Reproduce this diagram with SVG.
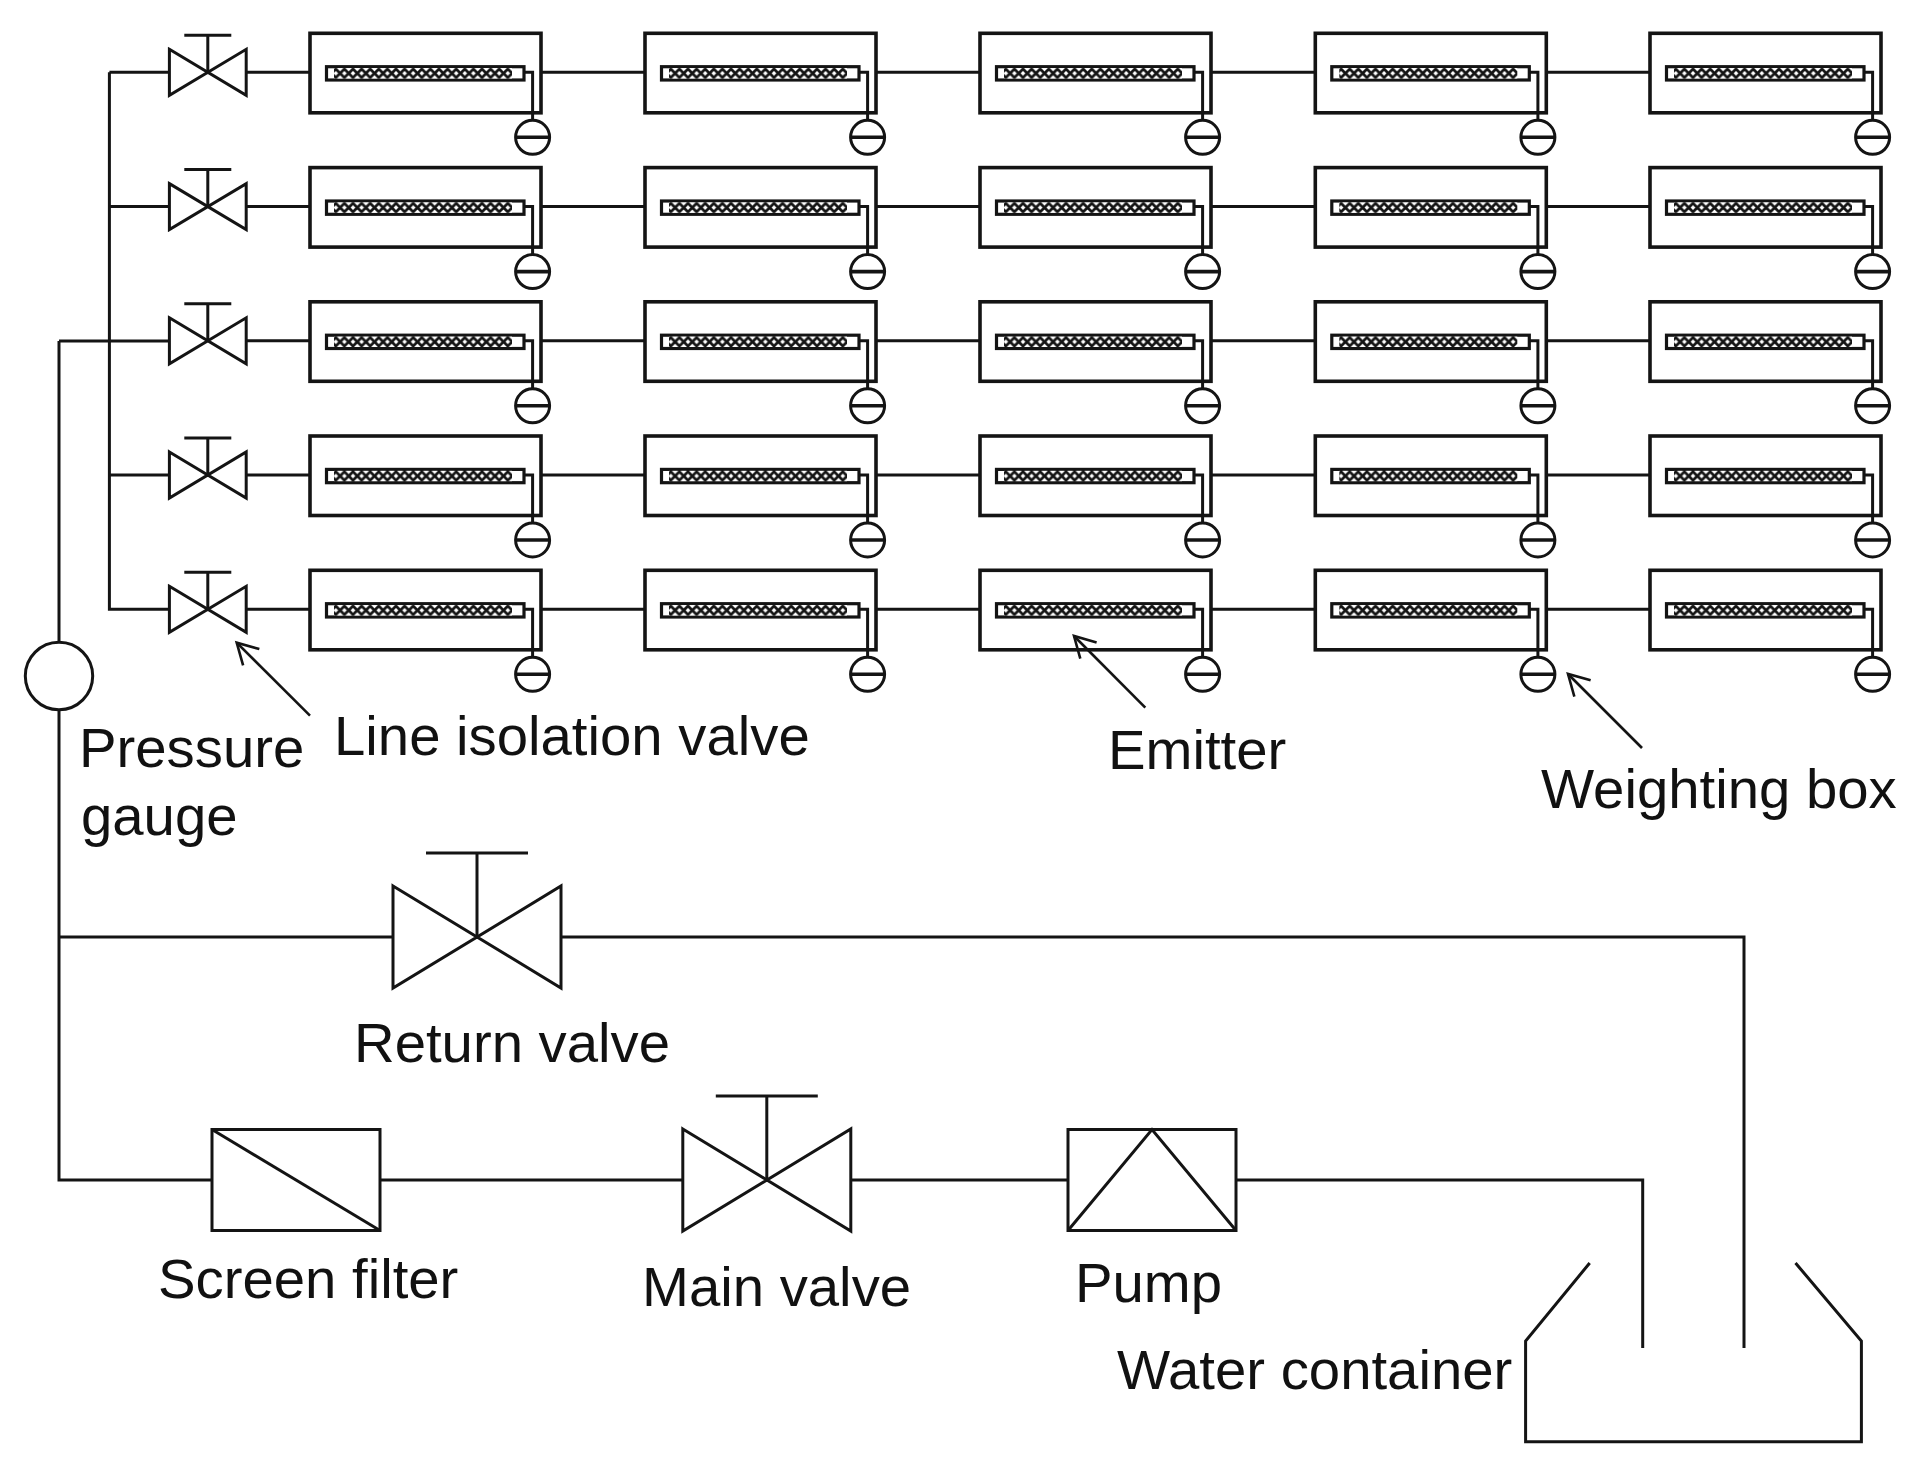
<svg xmlns="http://www.w3.org/2000/svg" xmlns:xlink="http://www.w3.org/1999/xlink" width="1926" height="1471" viewBox="0 0 1926 1471">
<style>
.l{fill:none;stroke:#141414;stroke-width:3;stroke-linejoin:miter}
.b{fill:none;stroke:#141414;stroke-width:3.6}
.t{font-family:"Liberation Sans",Arial,sans-serif;font-size:56.3px;fill:#111}
</style>
<defs>
<pattern id="braid" patternUnits="userSpaceOnUse" width="8.6" height="10.4" x="0" y="-4.2">
<rect width="8.6" height="10.4" fill="#fff"/>
<path d="M-1 0L9.6 10.4M-1 10.4L9.6 0" fill="none" stroke="#141414" stroke-width="2.8"/>
</pattern>
<marker id="arrow" markerUnits="userSpaceOnUse" markerWidth="60" markerHeight="60" viewBox="-40 -30 60 60" refX="0" refY="0" orient="auto" overflow="visible">
<path d="M-20.5 -11.5L0 0L-20.5 11.5" fill="none" stroke="#141414" stroke-width="2.6"/>
</marker>
<g id="unit">
<rect class="b" x="0" y="-39" width="231" height="79.5" fill="#fff"/>
<rect x="16.5" y="-5.6" width="197.5" height="13.3" fill="#fff" stroke="#141414" stroke-width="3.2"/>
<rect x="24" y="-4.2" width="178" height="10.4" fill="url(#braid)"/>
<path class="l" d="M214 0H222.6V48"/>
<circle class="l" cx="222.6" cy="65" r="17"/>
<path class="b" d="M205.6 65H239.6"/>
</g>
<g id="sv">
<path class="l" d="M-38.4 -23L38.4 23V-23L-38.4 23Z"/>
<path class="l" d="M0 0V-37M-23.5 -37H23.5"/>
</g>
<g id="bv">
<path class="l" d="M-84 -51L84 51V-51L-84 51Z"/>
<path class="l" d="M0 0V-84M-51 -84H51"/>
</g>
</defs>
<rect width="1926" height="1471" fill="#fff"/>
<g id="connectors">
<path class="l" d="M109.4 72.3V609.3H169.4M109.4 72.3H169.4M109.4 206.6H169.4M109.4 475H169.4M59 341H169.4M59 341V642M59 710V1180H212"/>
<path class="l" d="M246 72.3H310M541 72.3H645M876 72.3H980M1211 72.3H1315.3M1546.3 72.3H1650"/>
<path class="l" d="M246 206.6H310M541 206.6H645M876 206.6H980M1211 206.6H1315.3M1546.3 206.6H1650"/>
<path class="l" d="M246 340.8H310M541 340.8H645M876 340.8H980M1211 340.8H1315.3M1546.3 340.8H1650"/>
<path class="l" d="M246 475H310M541 475H645M876 475H980M1211 475H1315.3M1546.3 475H1650"/>
<path class="l" d="M246 609.3H310M541 609.3H645M876 609.3H980M1211 609.3H1315.3M1546.3 609.3H1650"/>
<path class="l" d="M59 937H393M561.5 937H1744V1348"/>
<path class="l" d="M380 1180H683M850.6 1180H1068M1236 1180H1642.7V1348"/>
<path id="arrow-valve" fill="none" stroke="#141414" stroke-width="2.6" marker-end="url(#arrow)" d="M310 715.7L236.7 642.7"/>
<path id="arrow-emitter" fill="none" stroke="#141414" stroke-width="2.6" marker-end="url(#arrow)" d="M1145.3 707.7L1074 636"/>
<path id="arrow-box" fill="none" stroke="#141414" stroke-width="2.6" marker-end="url(#arrow)" d="M1642 748L1568 674"/>
</g>
<g id="isolation-valve-1"><use href="#sv" x="207.8" y="72.3"/></g>
<g id="isolation-valve-2"><use href="#sv" x="207.8" y="206.6"/></g>
<g id="isolation-valve-3"><use href="#sv" x="207.8" y="340.8"/></g>
<g id="isolation-valve-4"><use href="#sv" x="207.8" y="475"/></g>
<g id="isolation-valve-5"><use href="#sv" x="207.8" y="609.3"/></g>
<g id="unit-1-1"><use href="#unit" x="310" y="72.3"/></g>
<g id="unit-1-2"><use href="#unit" x="645" y="72.3"/></g>
<g id="unit-1-3"><use href="#unit" x="980" y="72.3"/></g>
<g id="unit-1-4"><use href="#unit" x="1315.3" y="72.3"/></g>
<g id="unit-1-5"><use href="#unit" x="1650" y="72.3"/></g>
<g id="unit-2-1"><use href="#unit" x="310" y="206.6"/></g>
<g id="unit-2-2"><use href="#unit" x="645" y="206.6"/></g>
<g id="unit-2-3"><use href="#unit" x="980" y="206.6"/></g>
<g id="unit-2-4"><use href="#unit" x="1315.3" y="206.6"/></g>
<g id="unit-2-5"><use href="#unit" x="1650" y="206.6"/></g>
<g id="unit-3-1"><use href="#unit" x="310" y="340.8"/></g>
<g id="unit-3-2"><use href="#unit" x="645" y="340.8"/></g>
<g id="unit-3-3"><use href="#unit" x="980" y="340.8"/></g>
<g id="unit-3-4"><use href="#unit" x="1315.3" y="340.8"/></g>
<g id="unit-3-5"><use href="#unit" x="1650" y="340.8"/></g>
<g id="unit-4-1"><use href="#unit" x="310" y="475"/></g>
<g id="unit-4-2"><use href="#unit" x="645" y="475"/></g>
<g id="unit-4-3"><use href="#unit" x="980" y="475"/></g>
<g id="unit-4-4"><use href="#unit" x="1315.3" y="475"/></g>
<g id="unit-4-5"><use href="#unit" x="1650" y="475"/></g>
<g id="unit-5-1"><use href="#unit" x="310" y="609.3"/></g>
<g id="unit-5-2"><use href="#unit" x="645" y="609.3"/></g>
<g id="unit-5-3"><use href="#unit" x="980" y="609.3"/></g>
<g id="unit-5-4"><use href="#unit" x="1315.3" y="609.3"/></g>
<g id="unit-5-5"><use href="#unit" x="1650" y="609.3"/></g>
<g id="pressure-gauge"><circle class="l" cx="59" cy="676" r="33.7"/></g>
<g id="return-valve"><use href="#bv" x="477" y="937"/></g>
<g id="main-valve"><use href="#bv" x="766.8" y="1180"/></g>
<g id="screen-filter"><rect class="l" x="212" y="1129.5" width="168" height="101"/><path class="l" d="M212 1129.5L380 1230.5"/></g>
<g id="pump"><rect class="l" x="1068" y="1129.5" width="168" height="101"/><path class="l" d="M1068 1230.5L1152 1129.5L1236 1230.5"/></g>
<g id="water-container"><path class="l" d="M1589.7 1263L1525.6 1341V1441.7H1861.4V1341L1795.5 1263"/></g>
<g id="labels">
<text class="t" x="79" y="767">Pressure</text>
<text class="t" x="81" y="835">gauge</text>
<text class="t" x="334" y="755">Line isolation valve</text>
<text class="t" x="1108" y="769">Emitter</text>
<text class="t" x="1541" y="808">Weighting box</text>
<text class="t" x="354" y="1062">Return valve</text>
<text class="t" x="158" y="1298">Screen filter</text>
<text class="t" x="642" y="1306">Main valve</text>
<text class="t" x="1075" y="1302">Pump</text>
<text class="t" x="1117" y="1389">Water container</text>
</g>
</svg>
